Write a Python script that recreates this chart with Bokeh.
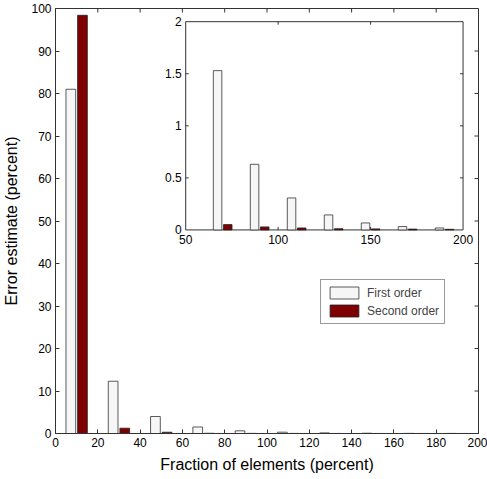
from bokeh.plotting import figure
from bokeh.models import (Range1d, FixedTicker, Legend, LegendItem,
                          LinearScale, ColumnDataSource)
from bokeh.transform import dodge
from bokeh.core.properties import value
from bokeh.embed import file_html
from bokeh.resources import INLINE
import math

# ---------------- data ----------------
bins = [10, 30, 50, 70, 90, 110, 130, 150, 170, 190]
first_order = [81.0, 12.3, 4.0, 1.53, 0.63, 0.307, 0.144, 0.067, 0.032, 0.019]
second_order = [98.4, 1.25, 0.3, 0.051, 0.029, 0.019, 0.012, 0.010, 0.008, 0.006]

main_xticks = [0, 20, 40, 60, 80, 100, 120, 140, 160, 180, 200]
main_yticks = [0, 10, 20, 30, 40, 50, 60, 70, 80, 90, 100]
inset_xticks = [50, 100, 150, 200]
inset_xlabels = ["50", "100", "150", "200"]
inset_yticks = [0, 0.5, 1, 1.5, 2]
inset_ylabels = ["0", "0.5", "1", "1.5", "2"]
inset_min_bin = 50

# ---------------- style ----------------
FONT = "Liberation Sans"
EDGE = "#333333"
WHITE_FILL = "#f6f6f6"
RED_FILL = "#7f0000"
OFF = 2.75
BW = 4.6

src = ColumnDataSource(dict(bin=bins, first=first_order, second=second_order))
keep = [i for i, b in enumerate(bins) if b > inset_min_bin]
src_in = ColumnDataSource(dict(bin=[bins[i] for i in keep],
                               first=[first_order[i] for i in keep],
                               second=[second_order[i] for i in keep]))

p = figure(width=487, height=479, x_range=Range1d(0, 200), y_range=Range1d(0, 100),
           output_backend="svg", toolbar_location=None,
           min_border_left=54, min_border_right=9, min_border_top=8, min_border_bottom=46)
p.grid.visible = False
p.outline_line_color = EDGE
p.outline_line_width = 1
p.background_fill_color = "white"
p.border_fill_color = "white"

p.xaxis.ticker = FixedTicker(ticks=main_xticks)
p.yaxis.ticker = FixedTicker(ticks=main_yticks)
p.xaxis.axis_label = "Fraction of elements (percent)"
p.yaxis.axis_label = "Error estimate (percent)"
for ax in p.axis:
    ax.axis_line_color = EDGE
    ax.major_tick_line_color = EDGE
    ax.major_tick_in = 4
    ax.major_tick_out = 0
    ax.minor_tick_line_color = None
    ax.major_label_text_font = FONT
    ax.major_label_text_font_size = "12px"
    ax.major_label_text_color = "black"
    ax.axis_label_text_font = FONT
    ax.axis_label_text_font_size = "16px"
    ax.axis_label_text_font_style = "normal"
    ax.axis_label_text_color = "black"
p.xaxis.major_label_standoff = 4
p.xaxis.axis_label_standoff = 6
p.yaxis.major_label_standoff = 4
p.yaxis.axis_label_standoff = 8

# ticks on the top and right edges of the main frame
x0, x1 = main_xticks[0], main_xticks[-1]
y0, y1 = main_yticks[0], main_yticks[-1]
p.ray(x=main_xticks[1:-1], y=[y1] * (len(main_xticks) - 2), length=4, length_units="screen",
      angle=-math.pi / 2, line_color=EDGE, line_width=1)
p.ray(x=[x1] * (len(main_yticks) - 2), y=main_yticks[1:-1], length=4, length_units="screen",
      angle=math.pi, line_color=EDGE, line_width=1)

r1 = p.vbar(x=dodge("bin", -OFF), top="first", width=BW, source=src,
            fill_color=WHITE_FILL, line_color=EDGE, line_width=0.8)
r2 = p.vbar(x=dodge("bin", OFF), top="second", width=BW, source=src,
            fill_color=RED_FILL, line_color="#222222", line_width=0.8)

# ---------------- inset ----------------
ix0, ix1 = inset_xticks[0], inset_xticks[-1]
iy0, iy1 = inset_yticks[0], inset_yticks[-1]
sub = p.subplot(x_source=Range1d(ix0, ix1), y_source=Range1d(iy0, iy1),
                x_scale=LinearScale(), y_scale=LinearScale(),
                x_target=Range1d(61.56, 192.7), y_target=Range1d(47.9, 96.9))

sub.quad(left=[ix0], right=[ix1], bottom=[iy0], top=[iy1],
         fill_color="white", line_color=EDGE, line_width=1)
sub.vbar(x=dodge("bin", -OFF), top="first", width=BW, source=src_in,
         fill_color=WHITE_FILL, line_color=EDGE, line_width=0.8)
sub.vbar(x=dodge("bin", OFF), top="second", width=BW, source=src_in,
         fill_color=RED_FILL, line_color="#222222", line_width=0.8)

inner_x = inset_xticks[1:-1]
inner_y = inset_yticks[1:-1]
sub.ray(x=inner_x, y=[iy0] * len(inner_x), length=3, length_units="screen",
        angle=math.pi / 2, line_color=EDGE, line_width=1)
sub.ray(x=inner_x, y=[iy1] * len(inner_x), length=3, length_units="screen",
        angle=-math.pi / 2, line_color=EDGE, line_width=1)
sub.ray(x=[ix0] * len(inner_y), y=inner_y, length=3, length_units="screen",
        angle=0, line_color=EDGE, line_width=1)
sub.ray(x=[ix1] * len(inner_y), y=inner_y, length=3, length_units="screen",
        angle=math.pi, line_color=EDGE, line_width=1)

sub.text(x=inset_xticks, y=[iy0] * len(inset_xticks), text=inset_xlabels,
         text_align="center", text_baseline="top", y_offset=5,
         text_font=value(FONT), text_font_size="12px", text_color="black")
sub.text(x=[ix0] * len(inset_yticks), y=inset_yticks, text=inset_ylabels,
         text_align="right", text_baseline="middle", x_offset=-4,
         text_font=value(FONT), text_font_size="12px", text_color="black")

# ---------------- legend ----------------
legend = Legend(items=[LegendItem(label="First order", renderers=[r1]),
                       LegendItem(label="Second order", renderers=[r2])],
                location=(265, 109), glyph_width=36, glyph_height=15,
                label_height=15, label_text_font=FONT, label_text_font_size="12px",
                padding=5, spacing=3, label_standoff=5, margin=0,
                border_line_color=EDGE, border_line_width=1,
                background_fill_color="white", background_fill_alpha=1)
p.add_layout(legend, "center")

open("out.html", "w").write(file_html(p, INLINE))
